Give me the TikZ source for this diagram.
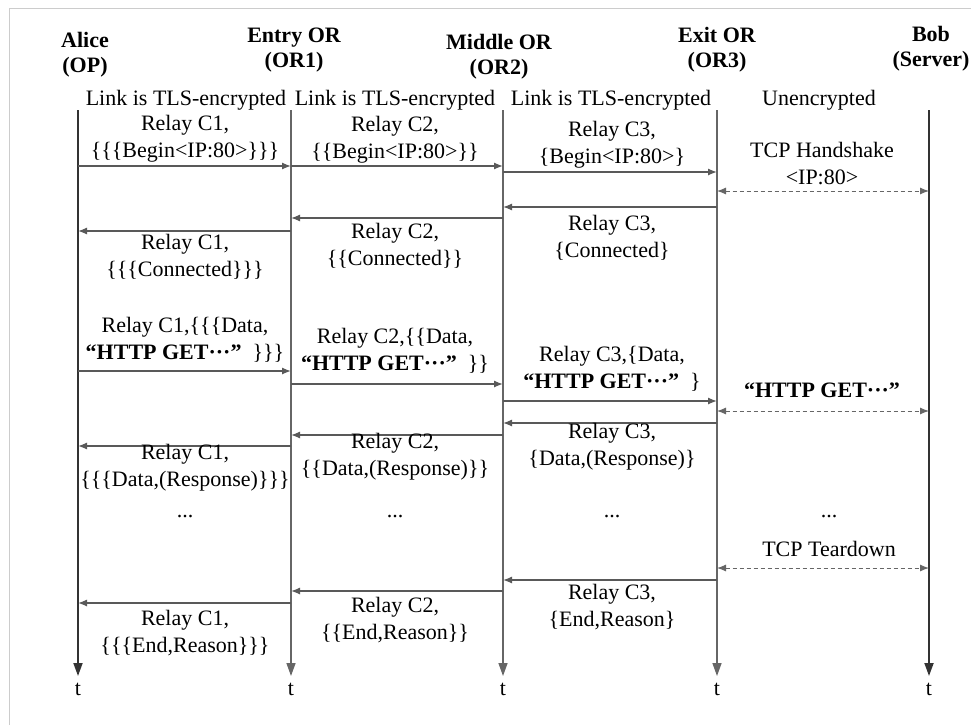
\documentclass[tikz,border=0pt]{standalone}
\usepackage{fontspec}
\setmainfont{Liberation Serif}
\usetikzlibrary{arrows.meta}
\tikzset{
  lbl/.style={align=center,font=\fontsize{22}{27}\selectfont,inner sep=0pt},
  hdr/.style={align=center,font=\fontsize{22}{25}\selectfont\bfseries,inner sep=0pt},
  life/.style={draw=black!60,line width=1.4pt,-{Triangle[length=13pt,width=9pt]}},
  lifeB/.style={life,draw=black!80,line width=1.8pt},
  msg/.style={draw=black!65,line width=1.3pt,-{Latex[length=9pt,width=7pt]}},
  both/.style={draw=black!60,line width=1pt,dashed,dash pattern=on 4pt off 3pt,{Latex[length=9pt,width=7pt]}-{Latex[length=9pt,width=7pt]}},
}
\begin{document}
\begin{tikzpicture}[x=1pt,y=-1pt]
\useasboundingbox (0,0) rectangle (971,725);
\fill[white] (0,0) rectangle (971,725);
\draw[black!20,line width=0.8pt] (9,725) -- (9,8) -- (971,8);
% lifeline coordinates
\coordinate (A) at (78,110);  \coordinate (Ae) at (78,676);
\coordinate (B) at (291,110); \coordinate (Be) at (291,676);
\coordinate (C) at (503,110); \coordinate (Ce) at (503,676);
\coordinate (D) at (717,110); \coordinate (De) at (717,676);
\coordinate (E) at (929,110); \coordinate (Ee) at (929,676);
\draw[lifeB] (A) -- (Ae);
\draw[life] (B) -- (Be);
\draw[life] (C) -- (Ce);
\draw[life] (D) -- (De);
\draw[lifeB] (E) -- (Ee);
% headers
\node[hdr] (hA) at (85,55) {Alice\\(OP)};
\node[hdr] (hB) at (294,50) {Entry OR\\(OR1)};
\node[hdr] (hC) at (499,57) {Middle OR\\(OR2)};
\node[hdr] (hD) at (717,50) {Exit OR\\(OR3)};
\node[hdr] (hE) at (931,49) {Bob\\(Server)};
% link labels
\node[lbl] (k1) at (186,100) {Link is TLS-encrypted};
\node[lbl] (k2) at (395,100) {Link is TLS-encrypted};
\node[lbl] (k3) at (611,100) {Link is TLS-encrypted};
\node[lbl] (k4) at (819,100) {Unencrypted};
% time labels
\foreach \n/\x in {A/78,B/291,C/503,D/717,E/929}{
  \node[lbl] (t\n) at (\x,689) {t};
}
% phase 1: begin
\draw[msg] (A |- 0,166) -- (B |- 0,166);
\node[lbl] (m1) at (185,139) {Relay C1,\\\{\{\{Begin<IP:80>\}\}\}};
\draw[msg] (B |- 0,166) -- (C |- 0,166);
\node[lbl] (m2) at (395,140) {Relay C2,\\\{\{Begin<IP:80>\}\}};
\draw[msg] (C |- 0,172) -- (D |- 0,172);
\node[lbl] (m3) at (612,145) {Relay C3,\\\{Begin<IP:80>\}};
\draw[both] (D |- 0,191) -- (E |- 0,191);
\node[lbl] (m4) at (822,164) {TCP Handshake\\<IP:80>};
\draw[msg] (D |- 0,207) -- (C |- 0,207);
\node[lbl] (m5) at (612,238) {Relay C3,\\\{Connected\}};
\draw[msg] (C |- 0,218) -- (B |- 0,218);
\node[lbl] (m6) at (395,246) {Relay C2,\\\{\{Connected\}\}};
\draw[msg] (B |- 0,231) -- (A |- 0,231);
\node[lbl] (m7) at (185,257) {Relay C1,\\\{\{\{Connected\}\}\}};
% phase 2: data
\draw[msg] (A |- 0,371) -- (B |- 0,371);
\node[lbl] (m8) at (185,340) {Relay C1,\{\{\{Data,\\\textbf{“HTTP GET···”}\ \ \}\}\}};
\draw[msg] (B |- 0,384) -- (C |- 0,384);
\node[lbl] (m9) at (395,351) {Relay C2,\{\{Data,\\\textbf{“HTTP GET···”}\ \ \}\}};
\draw[msg] (C |- 0,401) -- (D |- 0,401);
\node[lbl] (m10) at (612,369) {Relay C3,\{Data,\\\textbf{“HTTP GET···”}\ \ \}};
\draw[both] (D |- 0,411) -- (E |- 0,411);
\node[lbl] (m11) at (822,390) {\textbf{“HTTP GET···”}};
\draw[msg] (D |- 0,423) -- (C |- 0,423);
\node[lbl] (m12) at (612,447) {Relay C3,\\\{Data,(Response)\}};
\draw[msg] (C |- 0,435) -- (B |- 0,435);
\node[lbl] (m13) at (395,457) {Relay C2,\\\{\{Data,(Response)\}\}};
\draw[msg] (B |- 0,446) -- (A |- 0,446);
\node[lbl] (m14) at (185,468) {Relay C1,\\\{\{\{Data,(Response)\}\}\}};
% dots
\node[lbl,anchor=base] (d1) at (185,517) {...};
\node[lbl,anchor=base] (d2) at (395,517) {...};
\node[lbl,anchor=base] (d3) at (612,517) {...};
\node[lbl,anchor=base] (d4) at (829,517) {...};
% phase 3: teardown
\node[lbl] (m15) at (829,549) {TCP Teardown};
\draw[both] (D |- 0,568) -- (E |- 0,568);
\draw[msg] (D |- 0,580) -- (C |- 0,580);
\node[lbl] (m16) at (612,607) {Relay C3,\\\{End,Reason\}};
\draw[msg] (C |- 0,591) -- (B |- 0,591);
\node[lbl] (m17) at (395,620) {Relay C2,\\\{\{End,Reason\}\}};
\draw[msg] (B |- 0,603) -- (A |- 0,603);
\node[lbl] (m18) at (185,633) {Relay C1,\\\{\{\{End,Reason\}\}\}};
\end{tikzpicture}
\end{document}
